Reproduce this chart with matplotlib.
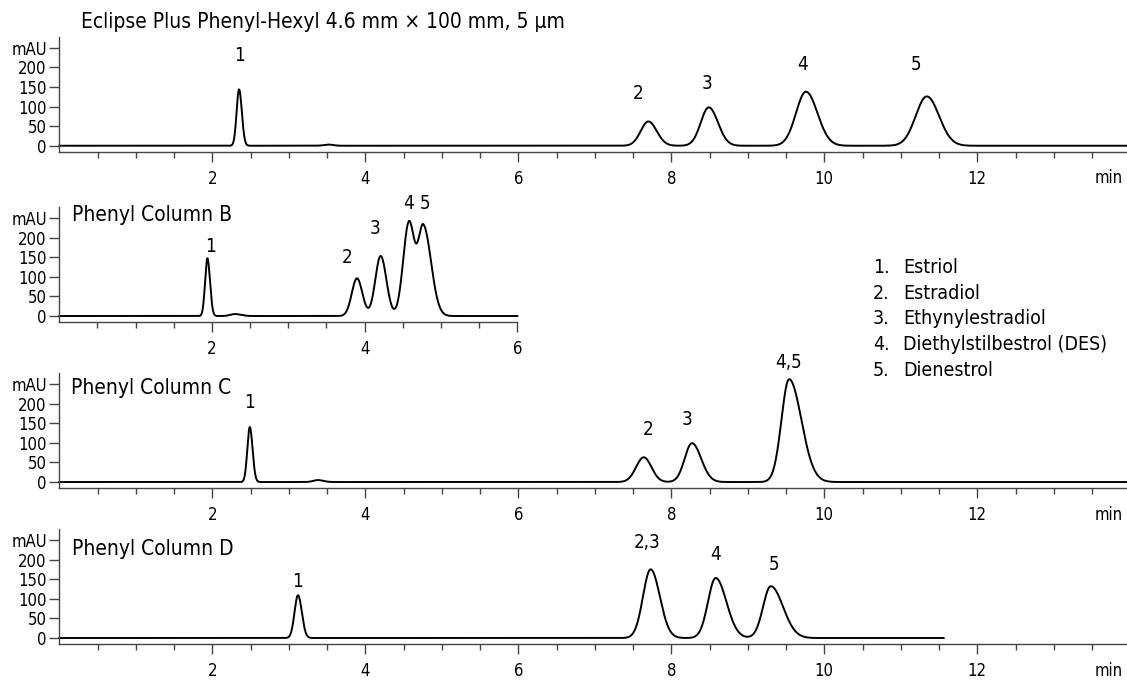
import numpy as np
import matplotlib.pyplot as plt
from matplotlib.ticker import FixedLocator

plt.rcParams['font.family'] = ['DejaVu Sans']
plt.rcParams['font.stretch'] = 'condensed'

# ======================
# Peak tables (retention time min, height mAU, left/right width min)
# ======================

a_time = [2.35, 3.52, 7.70, 8.49, 9.76, 11.34]
a_height = [144, 3, 62, 98, 138, 126]
a_wl = [0.032, 0.06, 0.10, 0.105, 0.13, 0.145]
a_wr = [0.036, 0.06, 0.11, 0.12, 0.15, 0.16]
a_labels = ['1', '', '2', '3', '4', '5']
a_lbl_x = [2.35, 0, 7.56, 8.47, 9.72, 11.20]
a_lbl_y = [231, 0, 134, 160, 208, 208]

b_time = [1.94, 2.30, 3.90, 4.21, 4.58, 4.77]
b_height = [147, 5, 96, 153, 236, 228]
b_wl = [0.03, 0.06, 0.068, 0.07, 0.075, 0.07]
b_wr = [0.034, 0.08, 0.07, 0.075, 0.07, 0.10]
b_labels = ['1', '', '2', '3', '4', '5']
b_lbl_x = [1.98, 0, 3.77, 4.14, 4.57, 4.79]
b_lbl_y = [176, 0, 148, 222, 287, 287]

c_time = [2.49, 3.38, 7.64, 8.27, 9.54]
c_height = [140, 5, 63, 99, 262]
c_wl = [0.032, 0.06, 0.10, 0.095, 0.10]
c_wr = [0.036, 0.07, 0.10, 0.12, 0.16]
c_labels = ['1', '', '2', '3', '4,5']
c_lbl_x = [2.49, 0, 7.69, 8.21, 9.53]
c_lbl_y = [202, 0, 134, 159, 304]

d_time = [3.12, 7.73, 8.58, 9.30]
d_height = [109, 175, 153, 132]
d_wl = [0.045, 0.10, 0.10, 0.10]
d_wr = [0.05, 0.12, 0.14, 0.16]
d_labels = ['1', '2,3', '4', '5']
d_lbl_x = [3.12, 7.68, 8.58, 9.34]
d_lbl_y = [144, 244, 214, 188]

compounds = ['Estriol', 'Estradiol', 'Ethynylestradiol',
             'Diethylstilbestrol (DES)', 'Dienestrol']

W, H = 1127, 681
PX_MIN = 76.5      # pixels per minute
X0 = 59.3          # pixel column of t = 0


def trace(t, times, heights, wl, wr):
    y = np.zeros_like(t)
    for t0, h, sl, sr in zip(times, heights, wl, wr):
        s = np.where(t < t0, sl, sr)
        y += h * np.exp(-0.5 * ((t - t0) / s) ** 2)
    return y


def make_axes(fig, left, top, right, bottom):
    return fig.add_axes([left / W, 1 - bottom / H,
                         (right - left) / W, (bottom - top) / H])


def style_axes(ax, xmax, majors):
    ax.set_xlim(0, xmax)
    ax.set_ylim(-16, 277)
    for s in ['top', 'right']:
        ax.spines[s].set_visible(False)
    for s in ['left', 'bottom']:
        ax.spines[s].set_color('#444444')
        ax.spines[s].set_linewidth(1.0)
    ax.yaxis.set_major_locator(FixedLocator([0, 50, 100, 150, 200, 250]))
    ax.set_yticklabels(['0', '50', '100', '150', '200', 'mAU'])
    ax.xaxis.set_major_locator(FixedLocator(majors))
    minors = [m for m in np.arange(0.5, xmax, 0.5) if m not in majors]
    ax.xaxis.set_minor_locator(FixedLocator(minors))
    ax.tick_params(axis='y', length=7, width=1, color='#444444', pad=2,
                   labelsize=12)
    ax.tick_params(axis='x', which='major', length=7, width=1,
                   color='#444444', pad=6, labelsize=12)
    ax.tick_params(axis='x', which='minor', length=4.5, width=1,
                   color='#444444')


def draw(ax, end, times, heights, wl, wr, labels, lx, ly):
    t = np.linspace(0, end, 4000)
    ax.plot(t, trace(t, times, heights, wl, wr), color='black', lw=1.4,
            clip_on=False)
    for lab, x, y in zip(labels, lx, ly):
        if lab:
            ax.text(x, y, lab, ha='center', va='center', fontsize=13.5,
                    clip_on=False)


fig = plt.figure(figsize=(W / 100, H / 100), dpi=100)

x_end = (W - X0) / PX_MIN
big_majors = [2, 4, 6, 8, 10, 12]

ax_a = make_axes(fig, X0, 37.3, W, 152)
style_axes(ax_a, x_end, big_majors)
draw(ax_a, x_end, a_time, a_height, a_wl, a_wr, a_labels, a_lbl_x, a_lbl_y)
ax_a.text(0.28, 316, 'Eclipse Plus Phenyl-Hexyl 4.6 mm \u00d7 100 mm, 5 \u00b5m',
          ha='left', va='center', fontsize=15, clip_on=False)

ax_b = make_axes(fig, X0, 207.3, 517.3, 322.3)
style_axes(ax_b, 6, [2, 4, 6])
draw(ax_b, 6, b_time, b_height, b_wl, b_wr, b_labels, b_lbl_x, b_lbl_y)
ax_b.text(0.17, 258, 'Phenyl Column B', ha='left', va='center', fontsize=15)

ax_c = make_axes(fig, X0, 373.3, W, 488.3)
style_axes(ax_c, x_end, big_majors)
draw(ax_c, x_end, c_time, c_height, c_wl, c_wr, c_labels, c_lbl_x, c_lbl_y)
ax_c.text(0.15, 240, 'Phenyl Column C', ha='left', va='center', fontsize=15)

ax_d = make_axes(fig, X0, 529.3, W, 644.3)
style_axes(ax_d, x_end, big_majors)
draw(ax_d, 11.56, d_time, d_height, d_wl, d_wr, d_labels, d_lbl_x, d_lbl_y)
ax_d.text(0.17, 226, 'Phenyl Column D', ha='left', va='center', fontsize=15)

# "min" unit at the right end of the full-length time axes
for ax in [ax_a, ax_c, ax_d]:
    ax.text((1123 - X0) / PX_MIN, -16 - 17.5 * 2.55, 'min', ha='right',
            va='top', fontsize=12, clip_on=False)

# compound legend
for i, name in enumerate(compounds):
    y = 1 - (268 + 25.5 * i) / H
    fig.text(873 / W, y, f'{i + 1}.', ha='left', va='center', fontsize=14)
    fig.text(903 / W, y, name, ha='left', va='center', fontsize=14)

plt.savefig('out.png', dpi=100)
